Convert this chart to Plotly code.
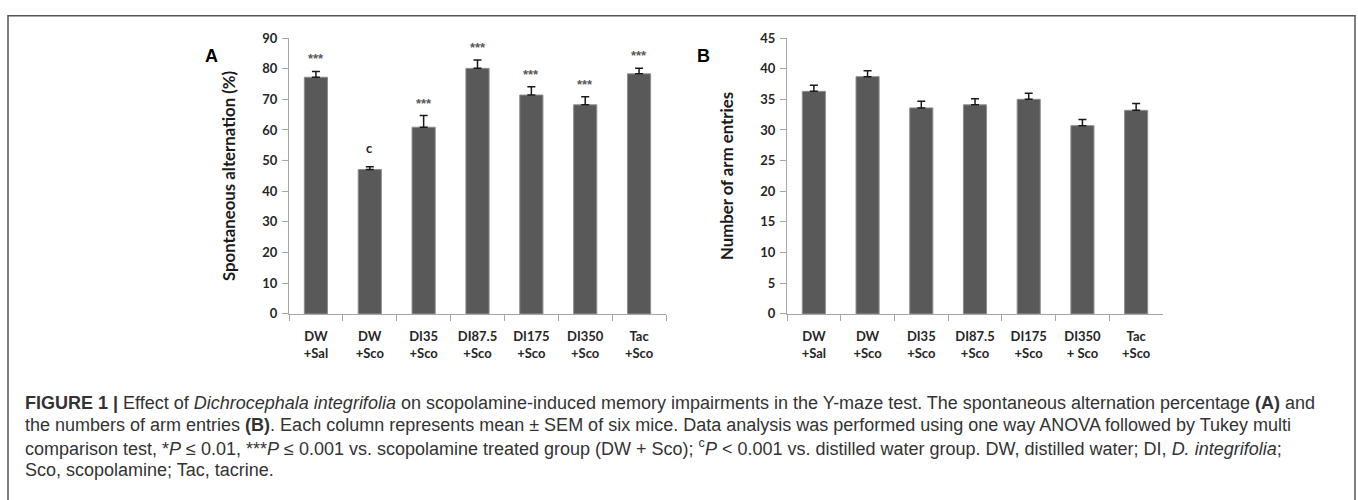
import plotly.graph_objects as go

W, H = 1358, 500

groups = ["DW<br>+Sal", "DW<br>+Sco", "DI35<br>+Sco", "DI87.5<br>+Sco", "DI175<br>+Sco", "DI350<br>+Sco", "Tac<br>+Sco"]
groups_b = ["DW<br>+Sal", "DW<br>+Sco", "DI35<br>+Sco", "DI87.5<br>+Sco", "DI175<br>+Sco", "DI350<br>+ Sco", "Tac<br>+Sco"]

alternation = [77.2, 47.1, 60.9, 80.1, 71.4, 68.2, 78.3]
alternation_sem = [1.9, 0.9, 3.8, 2.7, 2.7, 2.6, 1.8]
sig_labels = ["***", "c", "***", "***", "***", "***", "***"]

arm_entries = [36.3, 38.7, 33.6, 34.1, 35.0, 30.7, 33.2]
arm_entries_sem = [1.0, 0.95, 1.1, 1.0, 1.0, 1.0, 1.1]

yticks_a = [0, 10, 20, 30, 40, 50, 60, 70, 80, 90]
yticks_b = [0, 5, 10, 15, 20, 25, 30, 35, 40, 45]

caption_lines = [
    "<b>FIGURE 1 |</b> Effect of <i>Dichrocephala integrifolia</i> on scopolamine-induced memory impairments in the Y-maze test. The spontaneous alternation percentage <b>(A)</b> and",
    "the numbers of arm entries <b>(B)</b>. Each column represents mean ± SEM of six mice. Data analysis was performed using one way ANOVA followed by Tukey multi",
    "comparison test, *<i>P</i> ≤ 0.01, ***<i>P</i> ≤ 0.001 vs. scopolamine treated group (DW + Sco); <sup>c</sup><i>P</i> &lt; 0.001 vs. distilled water group. DW, distilled water; DI, <i>D. integrifolia</i>;",
    "Sco, scopolamine; Tac, tacrine.",
]

def px(x):
    return x / W

def py(y):
    return 1 - y / H

bar_color = "#595959"
bar_line = "#8e8e8e"
axis_color = "#a6a6a6"
tick_font = dict(family="Lato, 'Open Sans', sans-serif", size=13, color="#262626", weight="bold")
title_font = dict(family="Lato, sans-serif", size=16.8, color="#1a1a1a", weight="bold")

fig = go.Figure()

fig.add_trace(go.Bar(
    x=groups, y=alternation, xaxis="x", yaxis="y",
    marker=dict(color=bar_color, line=dict(color=bar_line, width=1)),
    error_y=dict(type="data", array=alternation_sem, arrayminus=[0] * len(alternation_sem),
                 symmetric=False, color="#1a1a1a", thickness=1.5, width=4),
    showlegend=False,
))
fig.add_trace(go.Bar(
    x=groups_b, y=arm_entries, xaxis="x2", yaxis="y2",
    marker=dict(color=bar_color, line=dict(color=bar_line, width=1)),
    error_y=dict(type="data", array=arm_entries_sem, arrayminus=[0] * len(arm_entries_sem),
                 symmetric=False, color="#1a1a1a", thickness=1.5, width=4),
    showlegend=False,
))

y_dom = [py(316), py(31)]
common_x = dict(showgrid=False, showline=True, linecolor=axis_color, linewidth=1,
                ticks="outside", tickson="boundaries", ticklen=6, tickcolor=axis_color,
                tickfont=tick_font, type="category", fixedrange=True, ticklabelstandoff=11)
common_y = dict(showgrid=False, showline=True, linecolor=axis_color, linewidth=1,
                ticks="outside", ticklen=6, tickcolor=axis_color, tickfont=tick_font,
                zeroline=False, fixedrange=True, ticklabelstandoff=2)

fig.update_layout(
    width=W, height=H,
    margin=dict(l=0, r=0, t=0, b=0),
    paper_bgcolor="white", plot_bgcolor="white",
    bargap=0.57,
    xaxis=dict(common_x, domain=[px(289), px(666)], anchor="y"),
    yaxis=dict(common_y, domain=y_dom, anchor="x", range=[0, 90], tickvals=yticks_a,
               title=dict(text="Spontaneous alternation (%)", font=title_font, standoff=22)),
    xaxis2=dict(common_x, domain=[px(787), px(1163)], anchor="y2"),
    yaxis2=dict(common_y, domain=y_dom, anchor="x2", range=[0, 45], tickvals=yticks_b,
                title=dict(text="Number of arm entries", font=title_font, standoff=22)),
    font=dict(family="Lato, sans-serif"),
)

# significance labels
for g, v, e, s in zip(groups, alternation, alternation_sem, sig_labels):
    if s == "c":
        fig.add_annotation(x=g, y=v + e, xref="x", yref="y", text="<b>c</b>", showarrow=False,
                           yanchor="bottom", yshift=9, font=dict(family="Lato, sans-serif", size=13, color="#262626"))
    else:
        fig.add_annotation(x=g, y=v + e, xref="x", yref="y", text="<b>***</b>", showarrow=False,
                           yanchor="bottom", yshift=3, font=dict(family="Liberation Sans, sans-serif", size=13, color="#5a5a5a"))

# panel letters
fig.add_annotation(x=px(203), y=py(37), xref="paper", yref="paper", text="<b>A</b>", showarrow=False,
                   font=dict(family="Liberation Sans, Arial, sans-serif", size=18, color="black"))
fig.add_annotation(x=px(703), y=py(37), xref="paper", yref="paper", text="<b>B</b>", showarrow=False,
                   font=dict(family="Liberation Sans, Arial, sans-serif", size=18, color="black"))

# caption
for i, line in enumerate(caption_lines):
    fig.add_annotation(x=px(23), y=py(408 + 23 * i), xref="paper", yref="paper", text=line, showarrow=False,
                       xanchor="left", yanchor="middle", align="left",
                       font=dict(family="Liberation Sans, Arial, sans-serif", size=18, color="#333333"))

# figure frame
fig.add_shape(type="rect", xref="paper", yref="paper", x0=px(8), x1=px(1355), y0=-0.2, y1=py(8),
              line=dict(color="#555555", width=1.5), fillcolor="rgba(0,0,0,0)", layer="below")

fig.write_html("out.html")
